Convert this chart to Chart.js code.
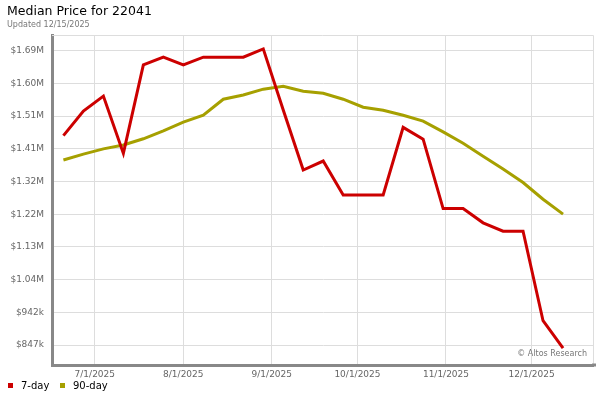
<!DOCTYPE html>
<html>
<head>
<meta charset="utf-8">
<script src="https://cdn.jsdelivr.net/npm/chart.js@4"></script>
<style>
  body { margin: 0; background: #fff; }
  canvas { display: block; }
</style>
</head>
<body>
<canvas id="chart" width="600" height="400"></canvas>
<script>
// weekly dates
const dates = [
    '2025-06-20', '2025-06-27', '2025-07-04', '2025-07-11', '2025-07-18', '2025-07-25',
    '2025-08-01', '2025-08-08', '2025-08-15', '2025-08-22', '2025-08-29',
    '2025-09-05', '2025-09-12', '2025-09-19', '2025-09-26',
    '2025-10-03', '2025-10-10', '2025-10-17', '2025-10-24', '2025-10-31',
    '2025-11-07', '2025-11-14', '2025-11-21', '2025-11-28',
    '2025-12-05', '2025-12-12'
]
const sevenDay = [
    1450000, 1521000, 1564000, 1399000, 1654000, 1676000,
    1654000, 1676000, 1676000, 1676000, 1700000,
    1524000, 1351000, 1377000, 1279000,
    1279000, 1279000, 1474000, 1440000, 1240000,
    1240000, 1199000, 1175000, 1175000,
    917000, 838000
]
const ninetyDay = [
    1380000, 1397000, 1412000, 1423000, 1441000, 1464000,
    1489000, 1509000, 1555000, 1567000, 1584000,
    1592000, 1578000, 1572000, 1555000,
    1532000, 1523000, 1509000, 1492000, 1461000,
    1428000, 1391000, 1354000, 1315000,
    1267000, 1224000
]
const xTickDates = ['2025-07-01', '2025-08-01', '2025-09-01', '2025-10-01', '2025-11-01', '2025-12-01']
const xTickLabels = ['7/1/2025', '8/1/2025', '9/1/2025', '10/1/2025', '11/1/2025', '12/1/2025']
const yTickValues = [847000, 941200, 1035400, 1129600, 1223800, 1318000, 1412200, 1506400, 1600600, 1694800]
const yTickLabels = ['$847k', '$942k', '$1.04M', '$1.13M', '$1.22M', '$1.32M', '$1.41M', '$1.51M', '$1.60M', '$1.69M']

const FONT = '"DejaVu Sans", Verdana, sans-serif'

function toDay(s) {
    return Date.UTC(+s.slice(0, 4), +s.slice(5, 7) - 1, +s.slice(8, 10)) / 864e5
}

// title, subtitle, legend, frame and watermark
const decorations = {
    id: 'decorations',
    beforeDraw(chart) {
        const c = chart.ctx
        c.save()
        c.fillStyle = '#000'
        c.font = '12.5px ' + FONT
        c.textBaseline = 'middle'
        c.fillText('Median Price for 22041', 7, 12)
        c.fillStyle = '#777'
        c.font = '8px ' + FONT
        c.fillText('Updated 12/15/2025', 7, 25)

        // legend
        const legendX = [8, 60]
        c.font = '10px ' + FONT
        chart.data.datasets.forEach((ds, i) => {
            c.fillStyle = ds.borderColor
            c.fillRect(legendX[i], 383, 5, 5)
            c.fillStyle = '#000'
            c.fillText(ds.label, legendX[i] + 13, 386)
        })
        c.restore()
    },
    afterDatasetsDraw(chart) {
        const a = chart.chartArea
        const c = chart.ctx
        c.save()
        c.strokeStyle = '#ddd'
        c.lineWidth = 1
        c.beginPath()
        c.moveTo(a.left, a.top + 0.5)
        c.lineTo(a.right + 0.5, a.top + 0.5)
        c.lineTo(a.right + 0.5, a.bottom)
        c.stroke()
        // axis line runs a little past the frame
        c.strokeStyle = '#888'
        c.lineWidth = 3
        c.beginPath()
        c.moveTo(a.right - 1, a.bottom)
        c.lineTo(a.right + 3, a.bottom)
        c.stroke()
        c.fillStyle = '#777'
        c.font = '8px ' + FONT
        c.textAlign = 'right'
        c.textBaseline = 'middle'
        c.fillText('\u00a9 Altos Research', a.right - 6, a.bottom - 11)
        c.restore()
    }
}

const ctx = document.getElementById('chart').getContext('2d')
const myChart = new Chart(ctx, {
    type: 'line',
    data: {
        datasets: [{
            label: '7-day',
            data: dates.map((d, i) => ({x: toDay(d), y: sevenDay[i]})),
            borderColor: '#cc0000',
            backgroundColor: '#cc0000',
            borderWidth: 3,
            pointRadius: 0,
            tension: 0
        }, {
            label: '90-day',
            data: dates.map((d, i) => ({x: toDay(d), y: ninetyDay[i]})),
            borderColor: '#a6a000',
            backgroundColor: '#a6a000',
            borderWidth: 3,
            pointRadius: 0,
            tension: 0
        }]
    },
    options: {
        responsive: false,
        animation: false,
        devicePixelRatio: 1,
        layout: {padding: {top: 35, right: 7, left: 0, bottom: 15}},
        scales: {
            x: {
                type: 'linear',
                min: toDay('2025-06-16'),
                max: toDay('2025-12-23') - 0.5,
                afterBuildTicks: axis => {
                    axis.ticks = xTickDates.map(d => ({value: toDay(d)}))
                },
                afterFit: axis => { axis.height = 20 },
                ticks: {
                    autoSkip: false,
                    maxRotation: 0,
                    padding: 4,
                    color: '#666',
                    font: {family: FONT, size: 9},
                    callback: (v, i) => xTickLabels[i]
                },
                grid: {color: '#ddd', drawTicks: false},
                border: {color: '#888', width: 3}
            },
            y: {
                min: 789400,
                max: 1740000,
                afterBuildTicks: axis => {
                    axis.ticks = yTickValues.map(v => ({value: v}))
                },
                afterFit: axis => { axis.width = 52 },
                ticks: {
                    padding: 8,
                    color: '#666',
                    font: {family: FONT, size: 9},
                    callback: (v, i) => yTickLabels[i]
                },
                grid: {color: '#ddd', drawTicks: false},
                border: {color: '#888', width: 3}
            }
        },
        plugins: {
            legend: {display: false},
            tooltip: {enabled: false}
        }
    },
    plugins: [decorations]
})
</script>
</body>
</html>
